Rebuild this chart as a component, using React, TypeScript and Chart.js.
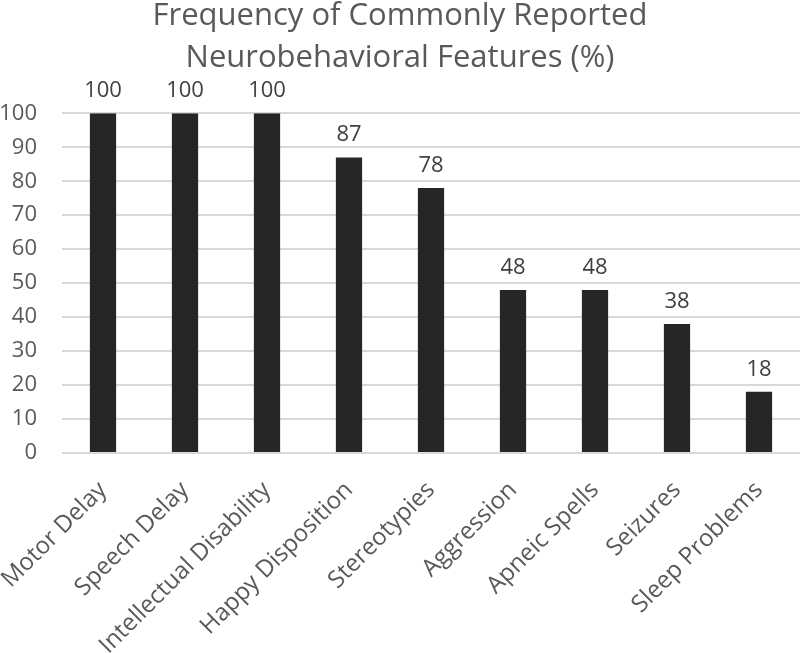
import React, { useEffect, useRef } from "react";
import { Chart, registerables } from "chart.js";

Chart.register(...registerables);

const categories: string[] = [
  "Motor Delay",
  "Speech Delay",
  "Intellectual Disability",
  "Happy Disposition",
  "Stereotypies",
  "Aggression",
  "Apneic Spells",
  "Seizures",
  "Sleep Problems",
];
const values: number[] = [100, 100, 100, 87, 78, 48, 48, 38, 18];
const titleLines: string[] = [
  "Frequency of Commonly Reported",
  "Neurobehavioral Features (%)",
];

const FONT = "'Open Sans', sans-serif";

const dataLabelPlugin = {
  id: "dataLabels",
  afterDatasetsDraw(chart: any) {
    const ctx = chart.ctx;
    const meta = chart.getDatasetMeta(0);
    ctx.save();
    ctx.font = `22px ${FONT}`;
    ctx.fillStyle = "#404040";
    ctx.textAlign = "center";
    ctx.textBaseline = "alphabetic";
    meta.data.forEach((bar: any, i: number) => {
      ctx.fillText(String(values[i]), bar.x, bar.y - 16);
    });
    ctx.restore();
  },
};

export default function App() {
  const ref = useRef<HTMLCanvasElement | null>(null);
  useEffect(() => {
    if (!ref.current) return;
    const chart = new Chart(ref.current, {
      type: "bar",
      data: {
        labels: categories,
        datasets: [
          {
            data: values,
            backgroundColor: "#262626",
            borderWidth: 0,
            barPercentage: 0.32,
            categoryPercentage: 1,
          },
        ],
      },
      options: {
        responsive: false,
        animation: false,
        devicePixelRatio: 1,
        layout: { padding: { left: 0, right: 0, top: 0, bottom: 0 } },
        plugins: {
          legend: { display: false },
          tooltip: { enabled: false },
          title: {
            display: true,
            text: titleLines,
            color: "#595959",
            font: { family: FONT, size: 31, weight: "normal", lineHeight: 1.36 },
            padding: { top: -5, bottom: 34 },
          },
        },
        scales: {
          x: {
            grid: { display: false },
            border: { display: false },
            ticks: {
              color: "#595959",
              font: { family: FONT, size: 24 },
              minRotation: 45,
              maxRotation: 45,
              padding: 15,
              autoSkip: false,
            },
            afterFit: (scale: any) => {
              scale.height = 200;
              scale.paddingLeft = 0;
              scale.paddingRight = 0;
            },
          },
          y: {
            min: 0,
            max: 100,
            grid: { color: "#d9d9d9", lineWidth: 2, drawTicks: false },
            border: { display: false },
            ticks: {
              stepSize: 10,
              color: "#595959",
              font: { family: FONT, size: 22 },
              padding: 25,
            },
            afterFit: (scale: any) => {
              scale.width = 62;
            },
          },
        },
      },
      plugins: [dataLabelPlugin],
    });
    return () => chart.destroy();
  }, []);
  return (
    <div style={{ position: "fixed", left: 0, top: 0, width: 800, height: 653, background: "#fff" }}>
      <canvas ref={ref} width={800} height={653} style={{ width: 800, height: 653 }} />
    </div>
  );
}
